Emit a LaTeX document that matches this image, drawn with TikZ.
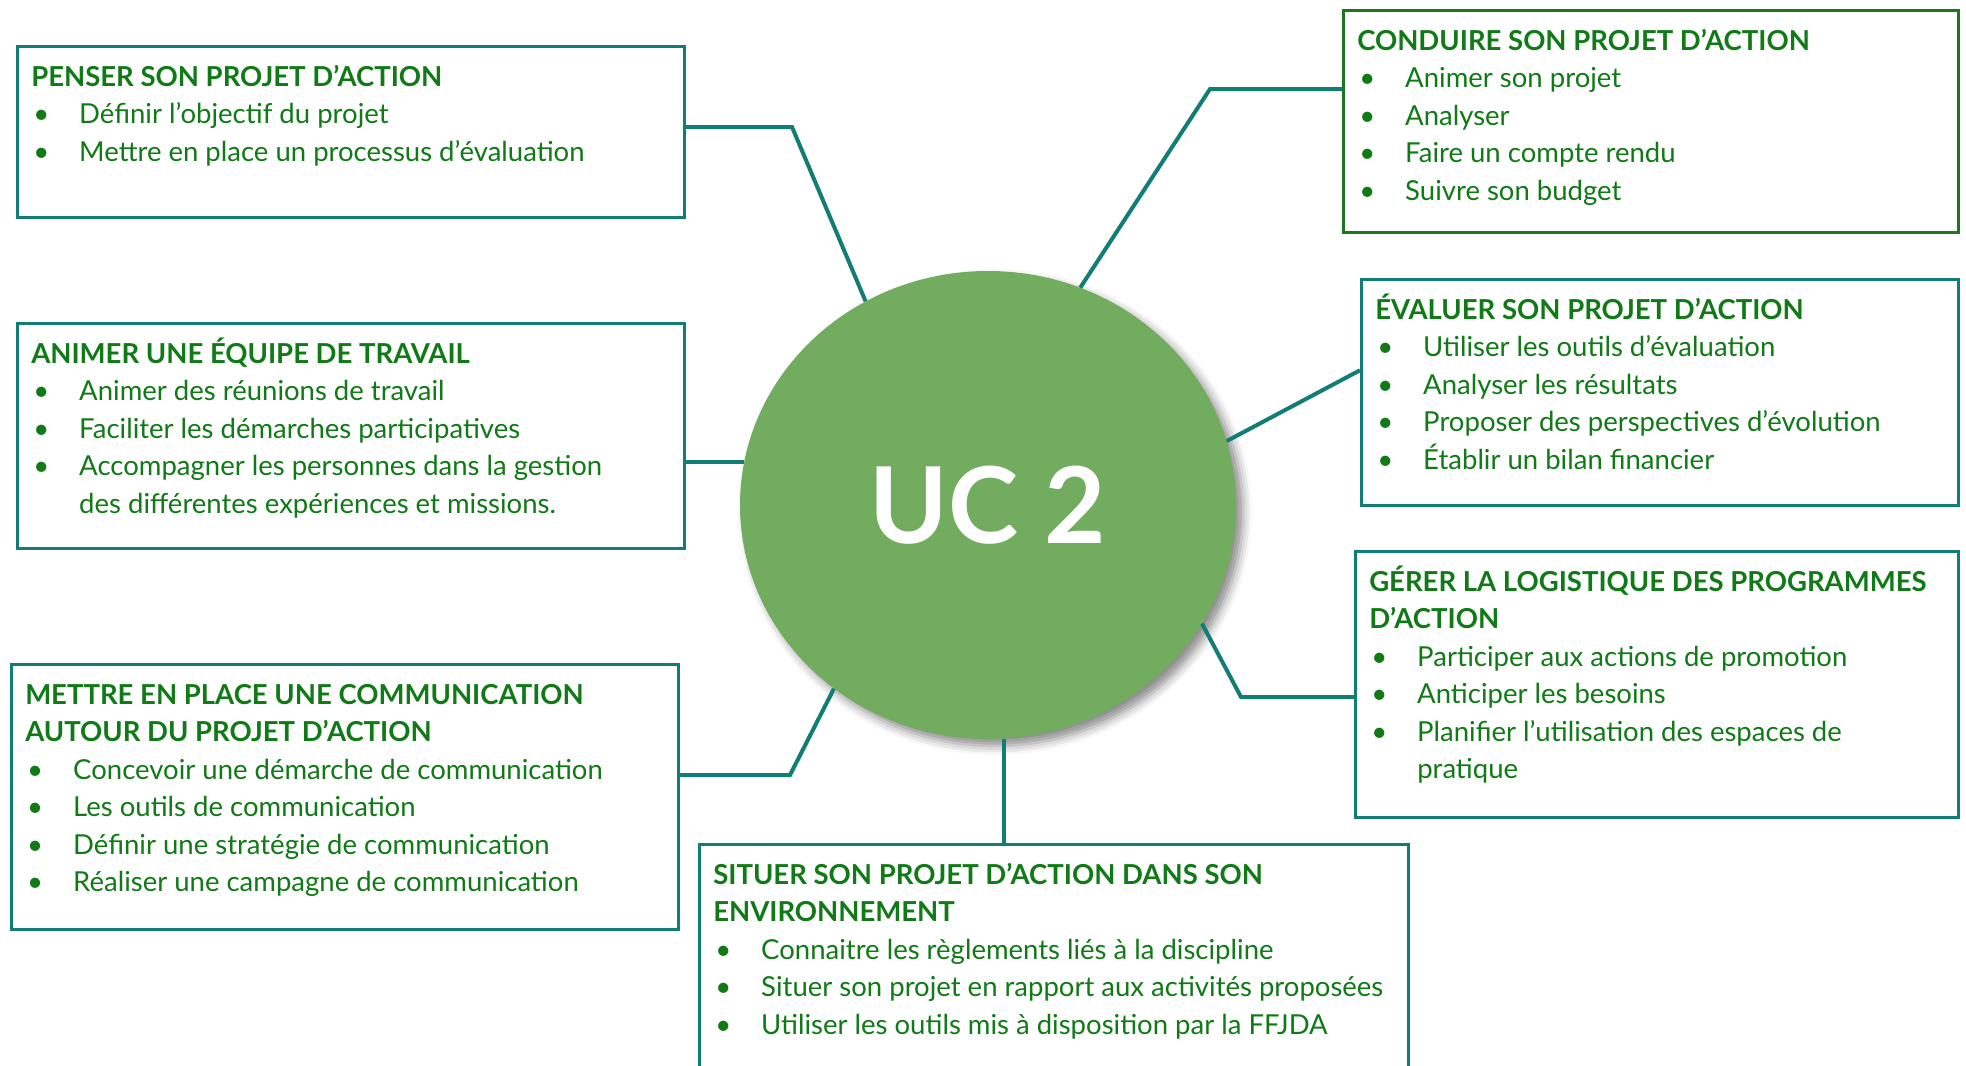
\documentclass[tikz,border=0pt]{standalone}
\usepackage{fontspec}
\setmainfont{Lato}
\usepackage{tikz}
\usetikzlibrary{shapes.geometric}
\usetikzlibrary{shadows.blur}

\definecolor{vert}{RGB}{16,122,22}
\definecolor{sarcelle}{RGB}{18,125,117}
\definecolor{vertbord}{RGB}{28,120,30}
\definecolor{rond}{RGB}{114,172,94}

\newcommand\titre[1]{{\fontsize{27.5}{37.5}\selectfont\bfseries #1}\par}
\newcommand\puce[1]{\par\hangindent=48pt\hangafter=1\noindent\hspace*{2pt}\makebox[46pt][l]{\textbullet}#1\par}
\newcommand\bloc[3]{\begin{minipage}[t][#2][t]{#1}\fontsize{27.5}{37.5}\selectfont\raggedright\leftskip=14pt\noindent\rule{0pt}{40pt}#3\end{minipage}}

\begin{document}
\begin{tikzpicture}[x=1pt,y=-1pt]

      \tikzset{cadre/.style = {draw=sarcelle, line width=2.5pt, fill=white, text=vert, inner sep=0pt, anchor=north west}}
      \tikzset{edge/.style = {-, draw=sarcelle, line width=4pt}}
      \useasboundingbox (0,0) rectangle (1966,1066);
      % centre
      \node[ellipse, fill=rond, minimum width=496pt, minimum height=468pt, inner sep=0pt,
            blur shadow={shadow xshift=7pt, shadow yshift=-7pt, shadow blur radius=9pt, shadow opacity=45},
            text=white, font=\fontsize{106}{106}\selectfont\bfseries] (uc) at (988,505) {UC 2};
      % boxes
      \node[cadre] (penser) at (16,45) {\bloc{667pt}{171pt}{\titre{PENSER SON PROJET D’ACTION}
            \puce{Définir l’objectif du projet}
            \puce{Mettre en place un processus d’évaluation}}};
      \node[cadre] (animer) at (16,322) {\bloc{667pt}{225pt}{\titre{ANIMER UNE ÉQUIPE DE TRAVAIL}
            \puce{Animer des réunions de travail}
            \puce{Faciliter les démarches participatives}
            \puce{Accompagner les personnes dans la gestion\newline des différentes expériences et missions.}}};
      \node[cadre] (mettre) at (10,663) {\bloc{667pt}{265pt}{\titre{METTRE EN PLACE UNE COMMUNICATION\\ AUTOUR DU PROJET D’ACTION}
            \puce{Concevoir une démarche de communication}
            \puce{Les outils de communication}
            \puce{Définir une stratégie de communication}
            \puce{Réaliser une campagne de communication}}};
      \node[cadre] (situer) at (698,843) {\bloc{709pt}{240pt}{\titre{SITUER SON PROJET D’ACTION DANS SON\\ ENVIRONNEMENT}
            \puce{Connaitre les règlements liés à la discipline}
            \puce{Situer son projet en rapport aux activités proposées}
            \puce{Utiliser les outils mis à disposition par la FFJDA}}};
      \node[cadre, draw=vertbord] (conduire) at (1342,9) {\bloc{615pt}{222pt}{\titre{CONDUIRE SON PROJET D’ACTION}
            \puce{Animer son projet}
            \puce{Analyser}
            \puce{Faire un compte rendu}
            \puce{Suivre son budget}}};
      \node[cadre] (evaluer) at (1360,278) {\bloc{597pt}{226pt}{\titre{ÉVALUER SON PROJET D’ACTION}
            \puce{Utiliser les outils d’évaluation}
            \puce{Analyser les résultats}
            \puce{Proposer des perspectives d’évolution}
            \puce{Établir un bilan financier}}};
      \node[cadre] (gerer) at (1354,550) {\bloc{603pt}{266pt}{\titre{GÉRER LA LOGISTIQUE DES PROGRAMMES\\ D’ACTION}
            \puce{Participer aux actions de promotion}
            \puce{Anticiper les besoins}
            \puce{Planifier l’utilisation des espaces de\newline pratique}}};
      % bends
      \coordinate (p1) at (792,127);
      \coordinate (c1) at (1210,89);
      \coordinate (g1) at (1241,697);
      \coordinate (m1) at (790,775);
      % edges
      \draw[edge] (penser.east |- p1) -- (p1) -- (uc.121);
      \draw[edge] (conduire.west |- c1) -- (c1) -- (uc.67);
      \draw[edge] (uc.170) -- (uc.170 -| animer.east);
      \draw[edge] (uc.15) -- ([yshift=22pt]evaluer.west);
      \draw[edge] (gerer.west |- g1) -- (g1) -- (uc.-29);
      \draw[edge] (mettre.east |- m1) -- (m1) -- (uc.-130);
      \draw[edge] (uc.-86) -- (uc.-86 |- situer.north);
\end{tikzpicture}
\end{document}
